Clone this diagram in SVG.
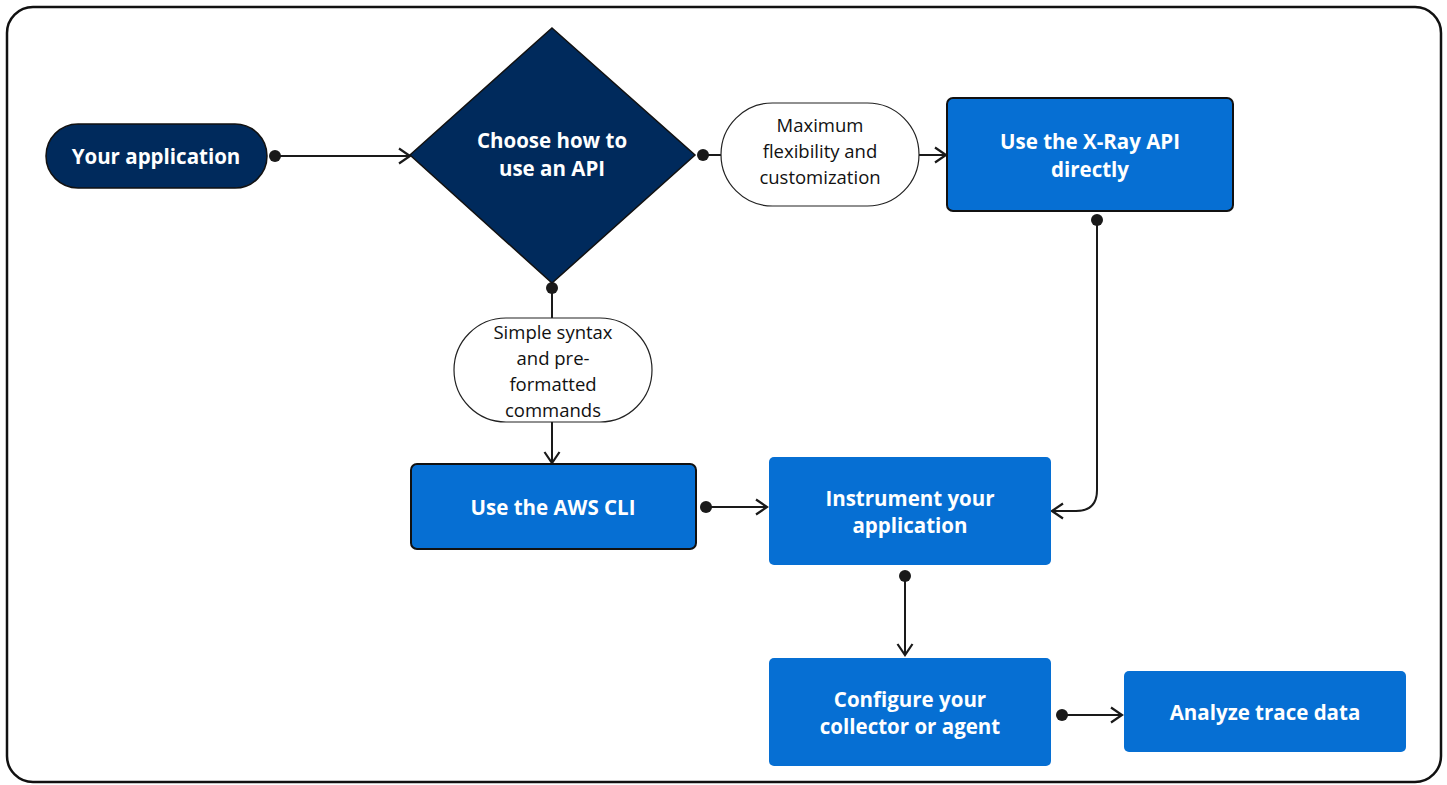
<svg xmlns="http://www.w3.org/2000/svg" width="1447" height="785" viewBox="0 0 1447 785">
<defs>
<marker id="arr" viewBox="0 0 14 18" refX="12.5" refY="9" markerWidth="14" markerHeight="18" markerUnits="userSpaceOnUse" orient="auto">
<path d="M1.5,1.5 L12.5,9 L1.5,16.5" fill="none" stroke="#1a1a1a" stroke-width="2.2"/>
</marker>
<marker id="dot" viewBox="0 0 14 14" refX="7" refY="7" markerWidth="14" markerHeight="14" markerUnits="userSpaceOnUse">
<circle cx="7" cy="7" r="6" fill="#1a1a1a"/>
</marker>
</defs>
<style>
.frame{fill:#fff;stroke:#111;stroke-width:2.5}
.navy{fill:#002a5c;stroke:#111;stroke-width:1.5}
.blue{fill:#066fd3}
.blues{fill:#066fd3;stroke:#111;stroke-width:2}
.lbl{fill:#fff;stroke:#222;stroke-width:1.2}
.t{font-family:"Open Sans","Noto Sans",sans-serif;font-weight:700;font-size:20.5px;fill:#fff;text-anchor:middle}
.l{font-family:"Open Sans","Noto Sans",sans-serif;font-weight:400;font-size:18.5px;fill:#111;text-anchor:middle}
.c{fill:none;stroke:#1a1a1a;stroke-width:2;marker-start:url(#dot);marker-end:url(#arr)}
.cs{fill:none;stroke:#1a1a1a;stroke-width:2}
</style>
<rect class="frame" x="7" y="7" width="1434" height="775" rx="26"/>
<g id="connectors">
<path class="c" d="M275,156 H410"/>
<path class="cs" d="M703,155 H721" style="marker-start:url(#dot)"/>
<path class="cs" d="M919,155 H946" style="marker-end:url(#arr)"/>
<path class="cs" d="M552,288 V318" style="marker-start:url(#dot)"/>
<path class="cs" d="M552,422 V463" style="marker-end:url(#arr)"/>
<path class="c" d="M1097,220 V490 Q1097,511 1076,511 H1052"/>
<path class="c" d="M706,507 H767"/>
<path class="c" d="M905,576 V655"/>
<path class="c" d="M1062,715 H1122"/>
</g>
<g id="your-application">
<rect class="navy" x="46" y="124" width="221" height="64" rx="32"/>
<text class="t" x="156" y="164">Your application</text>
</g>
<g id="choose-api">
<polygon class="navy" points="552,28 695,155 552,283 410,155"/>
<text class="t" x="552" y="148">Choose how to</text>
<text class="t" x="552" y="176">use an API</text>
</g>
<g id="label-max">
<rect class="lbl" x="721" y="103" width="198" height="103" rx="51.5"/>
<text class="l" x="820" y="132">Maximum</text>
<text class="l" x="820" y="158">flexibility and</text>
<text class="l" x="820" y="184">customization</text>
</g>
<g id="xray-api">
<rect class="blues" x="947" y="98" width="286" height="113" rx="6"/>
<text class="t" x="1090" y="149">Use the X-Ray API</text>
<text class="t" x="1090" y="177">directly</text>
</g>
<g id="label-simple">
<rect class="lbl" x="454" y="318" width="198" height="104" rx="52"/>
<text class="l" x="553" y="339">Simple syntax</text>
<text class="l" x="553" y="365">and pre-</text>
<text class="l" x="553" y="391">formatted</text>
<text class="l" x="553" y="417">commands</text>
</g>
<g id="aws-cli">
<rect class="blues" x="411" y="464" width="285" height="85" rx="6"/>
<text class="t" x="553" y="515">Use the AWS CLI</text>
</g>
<g id="instrument">
<rect class="blue" x="769" y="457" width="282" height="108" rx="5"/>
<text class="t" x="910" y="506">Instrument your</text>
<text class="t" x="910" y="533">application</text>
</g>
<g id="configure">
<rect class="blue" x="769" y="658" width="282" height="108" rx="5"/>
<text class="t" x="910" y="707">Configure your</text>
<text class="t" x="910" y="734">collector or agent</text>
</g>
<g id="analyze">
<rect class="blue" x="1124" y="671" width="282" height="81" rx="5"/>
<text class="t" x="1265" y="720">Analyze trace data</text>
</g>
</svg>
